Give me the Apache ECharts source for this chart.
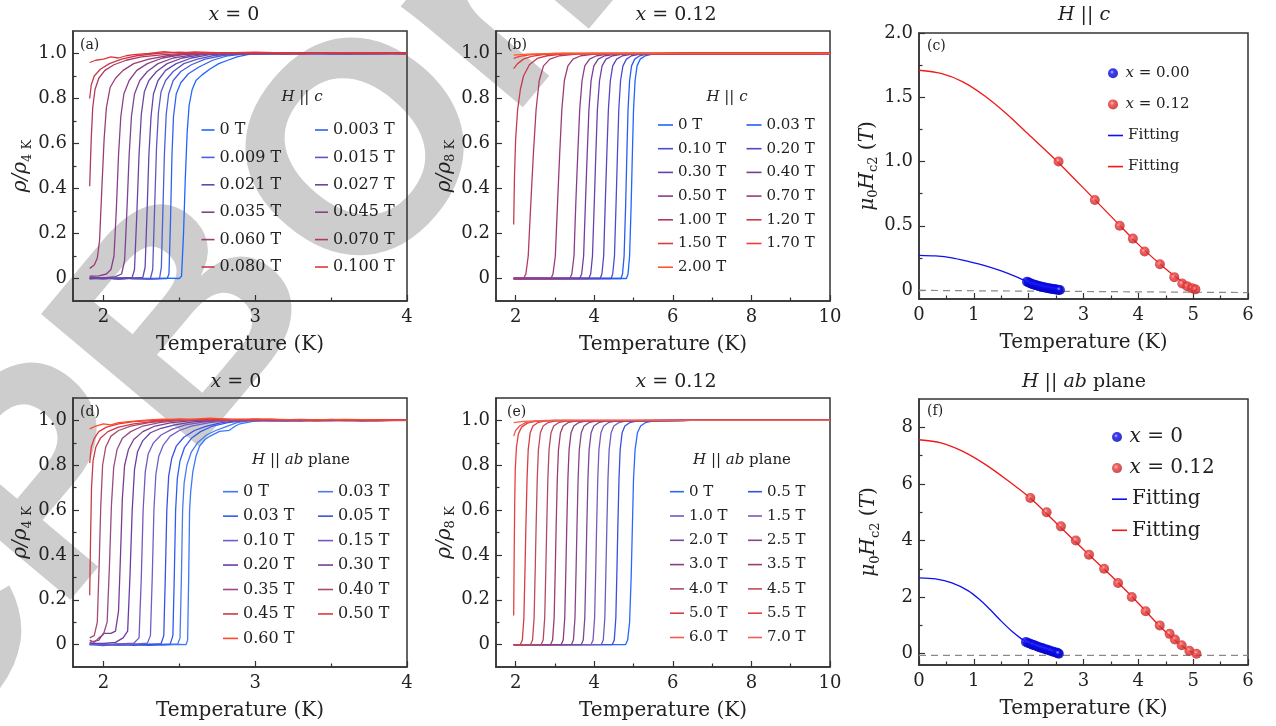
<!DOCTYPE html>
<html><head><meta charset="utf-8">
<script src="https://cdn.jsdelivr.net/npm/echarts@6/dist/echarts.min.js"></script>
<style>html,body{margin:0;padding:0;background:#fff}#c{width:1276px;height:726px}</style>
</head><body><div id="c"></div><script>
// ---------------- DATA ----------------
const fieldsA = ['0 T','0.003 T','0.009 T','0.015 T','0.021 T','0.027 T','0.035 T','0.045 T','0.060 T','0.070 T','0.080 T','0.100 T'];
const curvesA = [
 [[1.91,0.0],[2.0,0.003],[2.1,-0.003],[2.2,0.002],[2.3,-0.002],[2.4,0.002],[2.5,0.0],[2.515,0.01],[2.528,0.2],[2.54,0.45],[2.552,0.65],[2.565,0.77],[2.585,0.84],[2.61,0.88],[2.65,0.905],[2.70,0.93],[2.76,0.955],[2.82,0.97],[2.88,0.985],[2.95,0.995],[3.0,1.0],[3.2,0.997],[3.4,1.002],[3.6,0.998],[3.8,1.003],[4.0,1.0]],
 [[1.91,0.0],[2.0,-0.002],[2.1,0.003],[2.2,0.0],[2.3,-0.003],[2.42,0.0],[2.432,0.02],[2.442,0.25],[2.452,0.55],[2.462,0.72],[2.48,0.82],[2.51,0.87],[2.56,0.91],[2.63,0.94],[2.72,0.97],[2.82,0.99],[2.95,1.0],[3.2,1.002],[3.5,0.997],[3.8,1.002],[4.0,0.999]],
 [[1.91,0.0],[2.0,0.003],[2.1,-0.002],[2.2,0.002],[2.3,0.0],[2.37,0.0],[2.382,0.05],[2.392,0.3],[2.402,0.55],[2.414,0.73],[2.43,0.82],[2.46,0.88],[2.51,0.92],[2.58,0.95],[2.67,0.975],[2.78,0.99],[2.9,1.0],[3.2,0.998],[3.5,1.003],[3.8,0.998],[4.0,1.001]],
 [[1.91,0.002],[2.0,0.0],[2.1,0.003],[2.2,-0.002],[2.31,0.0],[2.325,0.04],[2.337,0.3],[2.35,0.58],[2.363,0.74],[2.38,0.83],[2.41,0.88],[2.46,0.92],[2.53,0.955],[2.62,0.975],[2.72,0.99],[2.85,1.0],[3.1,1.002],[3.4,0.998],[3.7,1.003],[4.0,1.0]],
 [[1.91,0.0],[2.0,0.002],[2.1,-0.002],[2.2,0.002],[2.26,0.005],[2.275,0.05],[2.288,0.3],[2.30,0.55],[2.314,0.72],[2.33,0.82],[2.36,0.88],[2.41,0.925],[2.48,0.955],[2.58,0.98],[2.7,0.995],[2.85,1.0],[3.1,0.998],[3.4,1.003],[3.7,0.998],[4.0,1.002]],
 [[1.91,0.003],[2.0,0.0],[2.1,0.002],[2.19,0.005],[2.205,0.04],[2.22,0.28],[2.235,0.55],[2.25,0.73],[2.27,0.83],[2.3,0.88],[2.35,0.92],[2.42,0.955],[2.52,0.98],[2.65,0.995],[2.8,1.002],[3.0,0.999],[3.3,1.003],[3.6,0.998],[4.0,1.001]],
 [[1.91,0.005],[2.0,0.003],[2.08,0.008],[2.12,0.02],[2.14,0.08],[2.155,0.3],[2.17,0.55],[2.185,0.72],[2.205,0.82],[2.24,0.88],[2.29,0.92],[2.36,0.955],[2.46,0.98],[2.6,0.995],[2.75,1.003],[3.0,0.999],[3.3,1.002],[3.6,0.999],[4.0,1.0]],
 [[1.91,0.01],[1.97,0.012],[2.02,0.02],[2.05,0.04],[2.07,0.1],[2.085,0.3],[2.10,0.55],[2.115,0.72],[2.135,0.82],[2.17,0.88],[2.22,0.925],[2.29,0.955],[2.39,0.98],[2.52,0.995],[2.7,1.0],[3.0,1.003],[3.3,0.998],[3.6,1.002],[4.0,0.999]],
 [[1.91,0.045],[1.94,0.06],[1.96,0.09],[1.975,0.17],[1.99,0.4],[2.005,0.62],[2.02,0.76],[2.045,0.85],[2.08,0.89],[2.13,0.925],[2.2,0.955],[2.3,0.975],[2.42,0.99],[2.6,1.0],[2.9,1.004],[3.2,0.998],[3.5,1.002],[3.8,0.999],[4.0,1.0]],
 [[1.91,0.41],[1.92,0.62],[1.93,0.76],[1.945,0.84],[1.97,0.89],[2.01,0.925],[2.07,0.95],[2.15,0.97],[2.25,0.985],[2.4,0.995],[2.6,1.003],[2.9,0.998],[3.2,1.003],[3.5,0.999],[3.8,1.002],[4.0,1.0]],
 [[1.91,0.80],[1.92,0.86],[1.94,0.9],[1.98,0.93],[2.04,0.955],[2.12,0.975],[2.22,0.99],[2.35,1.0],[2.5,1.006],[2.7,1.0],[3.0,1.004],[3.3,0.999],[3.6,1.003],[4.0,1.0]],
 [[1.91,0.96],[1.95,0.97],[2.0,0.975],[2.05,0.985],[2.1,0.98],[2.15,0.99],[2.2,0.995],[2.3,1.0],[2.4,1.008],[2.5,1.002],[2.6,1.007],[2.8,1.003],[3.0,1.006],[3.3,1.0],[3.6,1.004],[4.0,1.0]]
];

const fieldsB = ['0 T','0.03 T','0.10 T','0.20 T','0.30 T','0.40 T','0.50 T','0.70 T','1.00 T','1.20 T','1.50 T','1.70 T','2.00 T'];
const curvesB = [
 [[1.95,0],[4.82,0],[4.86,0.02],[4.9,0.1],[4.94,0.33],[4.97,0.55],[5.0,0.75],[5.04,0.88],[5.09,0.945],[5.17,0.975],[5.3,0.99],[5.5,0.998],[6.5,1.0],[10,1.0]],
 [[1.95,0],[4.68,0],[4.72,0.02],[4.76,0.1],[4.8,0.33],[4.83,0.55],[4.86,0.75],[4.9,0.88],[4.95,0.945],[5.03,0.975],[5.16,0.99],[5.36,0.998],[6.5,1.0],[10,1.0]],
 [[1.95,0],[4.43,0],[4.47,0.02],[4.515,0.1],[4.555,0.33],[4.59,0.55],[4.625,0.75],[4.67,0.88],[4.73,0.945],[4.82,0.975],[4.95,0.99],[5.2,0.998],[6.5,1.0],[10,1.0]],
 [[1.95,0],[4.15,0],[4.195,0.02],[4.24,0.1],[4.28,0.33],[4.32,0.55],[4.36,0.75],[4.41,0.88],[4.47,0.945],[4.57,0.975],[4.72,0.99],[5.0,0.998],[6.5,1.0],[10,1.0]],
 [[1.95,0],[3.86,0],[3.91,0.02],[3.955,0.1],[4.0,0.33],[4.04,0.55],[4.08,0.75],[4.135,0.88],[4.2,0.945],[4.3,0.975],[4.47,0.99],[4.77,0.998],[6.5,1.0],[10,1.0]],
 [[1.95,0],[3.63,0],[3.68,0.02],[3.73,0.1],[3.775,0.33],[3.82,0.55],[3.865,0.75],[3.92,0.88],[3.99,0.945],[4.1,0.975],[4.27,0.99],[4.6,0.998],[6.5,1.0],[10,1.0]],
 [[1.95,0],[3.38,0],[3.43,0.02],[3.485,0.1],[3.53,0.33],[3.58,0.55],[3.63,0.75],[3.69,0.88],[3.76,0.945],[3.88,0.975],[4.06,0.99],[4.4,0.998],[6.5,1.0],[10,1.0]],
 [[1.95,0],[2.9,0],[2.95,0.02],[3.01,0.1],[3.065,0.33],[3.12,0.55],[3.175,0.75],[3.24,0.88],[3.33,0.945],[3.46,0.975],[3.66,0.99],[4.05,0.998],[6,1.0],[10,1.0]],
 [[1.95,0],[2.2,0],[2.26,0.02],[2.32,0.1],[2.385,0.33],[2.45,0.55],[2.52,0.75],[2.6,0.88],[2.71,0.945],[2.87,0.975],[3.12,0.99],[3.6,0.998],[5,1.0],[10,1.0]],
 [[1.95,0.24],[1.97,0.45],[2.0,0.62],[2.05,0.75],[2.12,0.84],[2.2,0.9],[2.35,0.95],[2.55,0.978],[2.8,0.99],[3.2,0.997],[4.0,1.0],[10,1.0]],
 [[1.95,0.933],[2.05,0.955],[2.2,0.975],[2.4,0.987],[2.7,0.995],[3.2,1.0],[10,1.0]],
 [[1.95,0.978],[2.1,0.987],[2.4,0.995],[3.0,1.0],[10,1.0]],
 [[1.95,0.993],[2.3,0.997],[3.0,1.0],[10,1.0]]
];

const fieldsD = ['0 T','0.03 T','0.03 T','0.05 T','0.10 T','0.15 T','0.20 T','0.30 T','0.35 T','0.40 T','0.45 T','0.50 T','0.60 T'];
const curvesD = [
 [[1.91,0.0],[2.0,-0.004],[2.1,0.002],[2.2,-0.003],[2.3,0.002],[2.4,-0.002],[2.5,0.001],[2.545,0.0],[2.555,0.02],[2.562,0.3],[2.568,0.6],[2.575,0.68],[2.589,0.77],[2.61,0.84],[2.633,0.884],[2.67,0.915],[2.70,0.929],[2.765,0.951],[2.83,0.956],[2.87,0.975],[2.9,0.985],[2.985,0.996],[3.1,1.003],[3.3,0.998],[3.5,1.004],[3.7,0.998],[3.85,1.003],[4.0,1.0]],
 [[1.91,0.003],[2.0,0.0],[2.1,-0.003],[2.2,0.002],[2.3,-0.002],[2.4,0.001],[2.49,0.003],[2.505,0.03],[2.514,0.3],[2.522,0.6],[2.532,0.72],[2.55,0.8],[2.58,0.86],[2.62,0.9],[2.68,0.935],[2.74,0.955],[2.8,0.97],[2.88,0.99],[2.98,1.0],[3.2,0.998],[3.4,1.003],[3.6,0.999],[3.8,1.003],[4.0,0.999]],
 [[1.91,0.0],[2.0,0.003],[2.1,-0.002],[2.2,0.001],[2.3,-0.003],[2.44,0.002],[2.458,0.04],[2.467,0.3],[2.476,0.6],[2.487,0.74],[2.505,0.82],[2.535,0.88],[2.58,0.92],[2.64,0.95],[2.72,0.975],[2.82,0.99],[2.95,1.0],[3.2,1.003],[3.5,0.998],[3.8,1.002],[4.0,1.0]],
 [[1.91,0.002],[2.0,-0.002],[2.1,0.002],[2.2,-0.002],[2.3,0.001],[2.38,0.004],[2.398,0.04],[2.408,0.3],[2.418,0.6],[2.43,0.75],[2.45,0.83],[2.48,0.885],[2.53,0.925],[2.6,0.955],[2.68,0.975],[2.78,0.99],[2.9,1.0],[3.2,0.998],[3.5,1.003],[3.8,0.999],[4.0,1.002]],
 [[1.91,0.0],[2.0,0.002],[2.1,-0.002],[2.2,0.002],[2.29,0.006],[2.31,0.04],[2.322,0.3],[2.333,0.6],[2.346,0.76],[2.365,0.84],[2.395,0.89],[2.44,0.93],[2.5,0.955],[2.58,0.975],[2.7,0.99],[2.85,1.0],[3.1,1.003],[3.4,0.998],[3.7,1.002],[4.0,1.0]],
 [[1.91,0.003],[2.0,0.0],[2.1,0.003],[2.2,0.006],[2.235,0.03],[2.25,0.3],[2.262,0.6],[2.276,0.77],[2.295,0.85],[2.33,0.9],[2.38,0.935],[2.45,0.96],[2.54,0.98],[2.66,0.993],[2.8,1.0],[3.1,0.998],[3.4,1.003],[3.7,0.999],[4.0,1.002]],
 [[1.91,0.005],[2.0,0.005],[2.08,0.01],[2.13,0.03],[2.16,0.06],[2.175,0.3],[2.19,0.6],[2.205,0.78],[2.225,0.86],[2.26,0.91],[2.31,0.945],[2.38,0.965],[2.47,0.98],[2.6,0.995],[2.75,1.0],[3.0,1.004],[3.3,0.998],[3.6,1.003],[4.0,1.0]],
 [[1.91,0.01],[1.97,0.02],[2.0,0.05],[2.05,0.05],[2.08,0.06],[2.1,0.15],[2.113,0.4],[2.125,0.65],[2.14,0.8],[2.165,0.87],[2.2,0.915],[2.26,0.95],[2.34,0.975],[2.45,0.99],[2.6,1.0],[2.9,1.005],[3.2,0.999],[3.5,1.003],[3.8,0.998],[4.0,1.0]],
 [[1.91,0.02],[1.94,0.01],[1.97,0.03],[2.0,0.045],[2.025,0.1],[2.04,0.35],[2.053,0.62],[2.068,0.79],[2.09,0.87],[2.125,0.92],[2.18,0.95],[2.26,0.975],[2.37,0.99],[2.5,1.0],[2.8,1.006],[3.1,0.999],[3.4,1.003],[3.7,0.998],[4.0,1.001]],
 [[1.91,0.03],[1.94,0.04],[1.96,0.1],[1.972,0.35],[1.983,0.62],[1.995,0.8],[2.015,0.88],[2.05,0.93],[2.1,0.955],[2.18,0.975],[2.3,0.99],[2.45,1.0],[2.7,1.006],[3.0,1.0],[3.3,1.004],[3.6,0.999],[4.0,1.002]],
 [[1.91,0.22],[1.915,0.45],[1.922,0.7],[1.932,0.82],[1.95,0.88],[1.98,0.92],[2.03,0.95],[2.1,0.97],[2.2,0.985],[2.35,0.997],[2.5,1.004],[2.8,1.0],[3.1,1.005],[3.4,0.999],[3.7,1.003],[4.0,1.0]],
 [[1.91,0.81],[1.92,0.88],[1.94,0.92],[1.97,0.95],[2.02,0.97],[2.1,0.985],[2.2,0.995],[2.35,1.0],[2.5,1.006],[2.8,1.002],[3.1,1.005],[3.4,0.999],[3.7,1.003],[4.0,1.0]],
 [[1.91,0.962],[1.95,0.975],[2.0,0.985],[2.05,0.98],[2.1,0.99],[2.2,0.997],[2.3,1.002],[2.4,1.006],[2.55,1.003],[2.7,1.01],[2.85,1.004],[3.0,1.007],[3.3,1.002],[3.6,1.005],[4.0,1.0]]
];

const fieldsE = ['0 T','0.5 T','1.0 T','1.5 T','2.0 T','2.5 T','3.0 T','3.5 T','4.0 T','4.5 T','5.0 T','5.5 T','6.0 T','7.0 T'];
const curvesE = [
 [[1.95,0],[4.8,0],[4.85,0.02],[4.9,0.1],[4.94,0.3],[4.97,0.52],[5.0,0.74],[5.04,0.87],[5.1,0.945],[5.18,0.975],[5.3,0.99],[5.5,0.998],[6.5,1.0],[10,1.0]],
 [[1.95,0],[4.46,0],[4.51,0.02],[4.55,0.12],[4.58,0.35],[4.6,0.52],[4.63,0.74],[4.66,0.87],[4.71,0.945],[4.78,0.975],[4.9,0.99],[5.1,0.998],[6.5,1.0],[10,1.0]],
 [[1.95,0],[4.18,0],[4.23,0.02],[4.27,0.12],[4.3,0.35],[4.32,0.52],[4.35,0.74],[4.38,0.87],[4.43,0.945],[4.5,0.975],[4.62,0.99],[4.82,0.998],[6.5,1.0],[10,1.0]],
 [[1.95,0],[3.92,0],[3.97,0.02],[4.01,0.12],[4.04,0.35],[4.06,0.52],[4.09,0.74],[4.12,0.87],[4.17,0.945],[4.24,0.975],[4.36,0.99],[4.56,0.998],[6.5,1.0],[10,1.0]],
 [[1.95,0],[3.67,0],[3.72,0.02],[3.76,0.12],[3.79,0.35],[3.81,0.52],[3.84,0.74],[3.87,0.87],[3.92,0.945],[3.99,0.975],[4.11,0.99],[4.31,0.998],[6.5,1.0],[10,1.0]],
 [[1.95,0],[3.42,0],[3.47,0.02],[3.51,0.12],[3.54,0.35],[3.56,0.52],[3.59,0.74],[3.62,0.87],[3.67,0.945],[3.74,0.975],[3.86,0.99],[4.06,0.998],[6.5,1.0],[10,1.0]],
 [[1.95,0],[3.16,0],[3.21,0.02],[3.25,0.12],[3.28,0.35],[3.3,0.52],[3.33,0.74],[3.36,0.87],[3.41,0.945],[3.48,0.975],[3.6,0.99],[3.8,0.998],[6.5,1.0],[10,1.0]],
 [[1.95,0],[2.89,0],[2.94,0.02],[2.98,0.12],[3.01,0.35],[3.03,0.52],[3.06,0.74],[3.09,0.87],[3.14,0.945],[3.21,0.975],[3.33,0.99],[3.53,0.998],[6.5,1.0],[10,1.0]],
 [[1.95,0],[2.65,0],[2.7,0.02],[2.74,0.12],[2.77,0.35],[2.79,0.52],[2.82,0.74],[2.85,0.87],[2.9,0.945],[2.97,0.975],[3.09,0.99],[3.29,0.998],[6.5,1.0],[10,1.0]],
 [[1.95,0],[2.38,0],[2.43,0.02],[2.47,0.12],[2.5,0.35],[2.52,0.52],[2.55,0.74],[2.58,0.87],[2.63,0.945],[2.7,0.975],[2.82,0.99],[3.02,0.998],[6.5,1.0],[10,1.0]],
 [[1.95,0],[2.12,0],[2.17,0.02],[2.21,0.12],[2.24,0.35],[2.26,0.52],[2.29,0.74],[2.32,0.87],[2.37,0.945],[2.44,0.975],[2.56,0.99],[2.76,0.998],[6.5,1.0],[10,1.0]],
 [[1.95,0.13],[1.96,0.35],[1.975,0.62],[1.99,0.78],[2.02,0.88],[2.07,0.94],[2.15,0.97],[2.3,0.988],[2.5,0.996],[3.0,1.0],[10,1.0]],
 [[1.95,0.93],[2.0,0.955],[2.1,0.975],[2.25,0.99],[2.5,0.997],[3.0,1.0],[10,1.0]],
 [[1.95,0.99],[2.2,0.996],[2.8,1.0],[10,1.0]]
];

// Hc2 panels
const hcC_x0 = [[1.97,0.065],[2.0,0.058],[2.03,0.052],[2.06,0.047],[2.09,0.043],[2.12,0.039],[2.15,0.035],[2.18,0.031],[2.21,0.028],[2.24,0.025],[2.27,0.022],[2.3,0.019],[2.33,0.016],[2.36,0.014],[2.39,0.012],[2.42,0.009],[2.45,0.007],[2.48,0.005],[2.51,0.003],[2.54,0.001],[2.57,0.0]];
const hcC_x12 = [[2.545,1.0],[3.206,0.70],[3.66,0.50],[3.90,0.40],[4.115,0.30],[4.394,0.20],[4.655,0.10],[4.80,0.05],[4.89,0.03],[4.98,0.013],[5.04,0.005]];
const fitC_x0 = [[0,0.27],[0.3,0.265],[0.6,0.25],[0.9,0.222],[1.2,0.19],[1.5,0.148],[1.8,0.098],[1.97,0.065]];
const fitC_x12 = [[0,1.71],[0.4,1.685],[0.8,1.62],[1.2,1.51],[1.6,1.37],[2.0,1.21],[2.4,1.05],[2.8,0.88],[3.2,0.705],[3.6,0.53],[4.0,0.355],[4.4,0.2],[4.7,0.095],[4.9,0.04],[5.07,0.0]];
const zeroC = [[0,-0.003],[6,-0.02]];

const hcF_x0 = [[1.95,0.41],[1.99,0.38],[2.03,0.35],[2.07,0.32],[2.1,0.3],[2.14,0.27],[2.18,0.24],[2.22,0.21],[2.26,0.19],[2.3,0.16],[2.34,0.14],[2.38,0.11],[2.42,0.09],[2.46,0.06],[2.5,0.04],[2.53,0.02],[2.55,0.0]];
const hcF_x12 = [[2.03,5.5],[2.327,5.0],[2.588,4.5],[2.86,4.0],[3.10,3.5],[3.375,3.0],[3.63,2.5],[3.88,2.0],[4.133,1.5],[4.39,1.0],[4.57,0.7],[4.667,0.5],[4.79,0.3],[4.93,0.1],[5.06,0.0]];
const fitF_x0 = [[0,2.68],[0.3,2.64],[0.6,2.5],[0.9,2.22],[1.1,1.92],[1.3,1.55],[1.5,1.15],[1.7,0.78],[1.85,0.55],[1.95,0.42]];
const fitF_x12 = [[0,7.56],[0.4,7.45],[0.8,7.15],[1.2,6.7],[1.6,6.15],[2.03,5.5],[2.5,4.62],[3.0,3.68],[3.5,2.76],[4.0,1.78],[4.4,0.95],[4.7,0.42],[4.9,0.13],[5.06,0.0]];
const zeroF = [[0,-0.06],[6,-0.06]];

// tick labels
const ticksRhoMajor = [0,0.2,0.4,0.6,0.8,1.0], ticksRhoMinor = [0.1,0.3,0.5,0.7,0.9];
const ticksT4Major = [2,3,4], ticksT4Minor = [2.5,3.5];
const ticksT10Major = [2,4,6,8,10], ticksT10Minor = [3,5,7,9];
const ticksT6Major = [0,1,2,3,4,5,6], ticksT6Minor = [0.5,1.5,2.5,3.5,4.5,5.5];
const ticksHcMajor = [0,0.5,1.0,1.5,2.0], ticksHcMinor = [0.25,0.75,1.25,1.75];
const ticksHabMajor = [0,2,4,6,8], ticksHabMinor = [1,3,5,7];

// ---------------- STYLE ----------------
const colorsA = ['#1f66ff','#2f62f0','#4a5fd8','#5b58c4','#6048b0','#6d44a0','#7c4494','#8a4088','#9c3c74','#b03a62','#c53a4c','#e0363a'];
const colorsB = ['#1f66ff','#2a5cf0','#4a4cd0','#5a44c0','#6a40ac','#783c9c','#8a3c8a','#9a3a78','#b03a64','#c83a4c','#e03a3a','#f04030','#ff5a2a'];
const colorsD = ['#3a78ff','#4a7af0','#2f5cf0','#3a50e0','#6a62c8','#7458c0','#6a3ca8','#7c3c94','#9a4a84','#a84a70','#c83a4a','#e0383a','#ff4a2a'];
const colorsE = ['#2a66ff','#3a4ee0','#6a5cc0','#7a5ab8','#7a4898','#8a4488','#8c3c80','#9c3c70','#b04a64','#c04a5a','#d83c44','#e84040','#f05a50','#f06050'];

const FONT = '"DejaVu Serif", serif';
const INK = '#222';
const grids = [
  {left:73, top:31, width:334, height:270},
  {left:496, top:31, width:334, height:270},
  {left:919, top:33, width:329, height:266},
  {left:73, top:398, width:334, height:269},
  {left:496, top:398, width:334, height:269},
  {left:919, top:399, width:329, height:266}
];
const richY = {
  r:{fontFamily:FONT, fontStyle:'italic', fontSize:20, lineHeight:26, color:INK},
  n:{fontFamily:FONT, fontSize:20, lineHeight:26, color:INK},
  s:{fontFamily:FONT, fontSize:13, lineHeight:10, verticalAlign:'bottom', color:INK}
};
function fmtRho(v){ return v===0 ? '0' : v.toFixed(1); }
function fmtInt(v){ return String(v); }

const xAxes = [], yAxes = [];
function addAxes(g, xr, xMaj, xMin, yr, yMaj, yMin, yFmt, yName, yGap){
  const axLine = {show:true, onZero:false, lineStyle:{color:'#333', width:1.5}};
  const tick = (vals,len)=>({show:true, inside:true, length:len, customValues:vals, lineStyle:{color:'#333', width:1.2}});
  xAxes.push({type:'value', gridIndex:g, min:xr[0], max:xr[1], position:'bottom',
    axisLine:axLine, axisTick:tick(xMaj,6), splitLine:{show:false},
    axisLabel:{customValues:xMaj, formatter:fmtInt, fontFamily:FONT, fontSize:18, color:INK, margin:7},
    name:'Temperature (K)', nameLocation:'middle', nameGap:34,
    nameTextStyle:{fontFamily:FONT, fontSize:20, color:INK}});
  xAxes.push({type:'value', gridIndex:g, min:xr[0], max:xr[1], position:'bottom',
    axisLine:{show:false, onZero:false}, axisTick:tick(xMin,3.5), axisLabel:{show:false}, splitLine:{show:false}});
  yAxes.push({type:'value', gridIndex:g, min:yr[0], max:yr[1], position:'left',
    axisLine:axLine, axisTick:tick(yMaj,6), splitLine:{show:false},
    axisLabel:{customValues:yMaj, formatter:yFmt, fontFamily:FONT, fontSize:18, color:INK, margin:6},
    name:yName, nameLocation:'middle', nameGap:yGap, nameRotate:90,
    nameTextStyle:{rich:richY}});
  yAxes.push({type:'value', gridIndex:g, min:yr[0], max:yr[1], position:'left',
    axisLine:{show:false, onZero:false}, axisTick:tick(yMin,3.5), axisLabel:{show:false}, splitLine:{show:false}});
}
const rhoName4 = '{r|ρ/ρ}{s|4 K}', rhoName8 = '{r|ρ/ρ}{s|8 K}';
const hcName = '{r|μ}{s|0}{r|H}{s|c2}{n| (}{r|T}{n|)}';
addAxes(0,[1.8,4],ticksT4Major,ticksT4Minor,[-0.1,1.1],ticksRhoMajor,ticksRhoMinor,fmtRho,rhoName4,39);
addAxes(1,[1.5,10],ticksT10Major,ticksT10Minor,[-0.1,1.1],ticksRhoMajor,ticksRhoMinor,fmtRho,rhoName8,36);
addAxes(2,[0,6],ticksT6Major,ticksT6Minor,[-0.07,2.0],ticksHcMajor,ticksHcMinor,fmtRho,hcName,37);
addAxes(3,[1.8,4],ticksT4Major,ticksT4Minor,[-0.1,1.1],ticksRhoMajor,ticksRhoMinor,fmtRho,rhoName4,39);
addAxes(4,[1.5,10],ticksT10Major,ticksT10Minor,[-0.1,1.1],ticksRhoMajor,ticksRhoMinor,fmtRho,rhoName8,36);
addAxes(5,[0,6],ticksT6Major,ticksT6Minor,[-0.4,9],ticksHabMajor,ticksHabMinor,fmtInt,hcName,37);

const series = [], legends = [], labelMap = {};
function addCurves(key, panel, fields, curves, colors, lg){
  const names = fields.map((f,i)=>{ const n = key+i; labelMap[n] = f; return n; });
  names.forEach((n,i)=>{
    series.push({type:'line', name:n, xAxisIndex:2*panel, yAxisIndex:2*panel, data:curves[i],
      symbol:'none', showSymbol:false, animation:false, z:3,
      lineStyle:{width:1.3, color:colors[i]}, itemStyle:{color:colors[i]}});
  });
  const col1 = names.filter((n,i)=>i%2===0), col2 = names.filter((n,i)=>i%2===1);
  [col1,col2].forEach((data,c)=>{
    legends.push({orient:'vertical', left:lg.x[c], top:lg.top, itemGap:lg.gap, padding:0,
      itemWidth:lg.iw, itemHeight:1.6, icon:'rect', selectedMode:false, data:data,
      formatter:(n)=>labelMap[n],
      textStyle:{fontFamily:FONT, fontSize:lg.fs, color:INK}});
  });
}
addCurves('a',0,fieldsA,curvesA,colorsA,{x:[201.5,315], top:122, gap:11.4, iw:13, fs:16});
addCurves('b',1,fieldsB,curvesB,colorsB,{x:[658,746.5], top:117.5, gap:8.7, iw:15, fs:15});
addCurves('d',3,fieldsD,curvesD,colorsD,{x:[223,318], top:483.7, gap:8.45, iw:15, fs:16});
addCurves('e',4,fieldsE,curvesE,colorsE,{x:[670,748], top:484.2, gap:9.3, iw:14, fs:15});

function ball(main, light, dark){
  return {type:'radial', x:0.4, y:0.38, r:0.65, colorStops:[{offset:0,color:light},{offset:0.3,color:main},{offset:1,color:dark}]};
}
const blueBall = ball('#0a0af5','#b0b0ff','#0000a8');
const redBall = ball('#ee3c3c','#ffb8b8','#b82020');
function addHc(key, panel, pts0, pts12, fit0, fit12, zero, lab0, lg){
  const nm = [key+'s0', key+'s12', key+'f0', key+'f12'];
  labelMap[nm[0]] = lab0; labelMap[nm[1]] = '{i|x} = 0.12';
  labelMap[nm[2]] = 'Fitting'; labelMap[nm[3]] = 'Fitting';
  const xi = 2*panel, yi = 2*panel;
  series.push({type:'line', name:key+'zero', xAxisIndex:xi, yAxisIndex:yi, data:zero, symbol:'none', animation:false, z:2,
    lineStyle:{color:'#8a8a8a', width:1.2, type:[7,5]}});
  series.push({type:'line', name:nm[2], xAxisIndex:xi, yAxisIndex:yi, data:fit0, symbol:'none', smooth:0.3, animation:false, z:3,
    lineStyle:{color:'#1010f0', width:1.3}, itemStyle:{color:'#1010f0'}});
  series.push({type:'line', name:nm[3], xAxisIndex:xi, yAxisIndex:yi, data:fit12, symbol:'none', smooth:0.3, animation:false, z:3,
    lineStyle:{color:'#f01818', width:1.3}, itemStyle:{color:'#f01818'}});
  series.push({type:'scatter', name:nm[0], xAxisIndex:xi, yAxisIndex:yi, data:pts0, symbolSize:10, animation:false, z:4,
    itemStyle:{color:blueBall}});
  series.push({type:'scatter', name:nm[1], xAxisIndex:xi, yAxisIndex:yi, data:pts12, symbolSize:10, animation:false, z:4,
    itemStyle:{color:redBall}});
  const ts = {fontFamily:FONT, fontSize:lg.fs, color:INK, lineHeight:lg.fs,
      rich:{i:{fontFamily:FONT, fontStyle:'italic', fontSize:lg.fs, lineHeight:lg.fs, color:INK}}};
  legends.push({orient:'vertical', left:lg.x, top:lg.top, itemGap:lg.gap, padding:0, itemWidth:15, itemHeight:10, icon:'circle',
    selectedMode:false, data:[nm[0],nm[1]], formatter:(n)=>labelMap[n], textStyle:ts});
  legends.push({orient:'vertical', left:lg.x, top:lg.top + 2*(lg.fs+lg.gap), itemGap:lg.gap, padding:0, itemWidth:15, itemHeight:1.6, icon:'rect',
    selectedMode:false, data:[nm[2],nm[3]], formatter:(n)=>labelMap[n], textStyle:ts});
}
addHc('c',2,hcC_x0,hcC_x12,fitC_x0,fitC_x12,zeroC,'{i|x} = 0.00',{x:1108, top:65.8, gap:16.1, fs:15});
addHc('f',5,hcF_x0,hcF_x12,fitF_x0,fitF_x12,zeroF,'{i|x} = 0',{x:1112, top:427, gap:11.1, fs:20});

// annotations
const richT = (fs)=>({i:{fontFamily:FONT, fontStyle:'italic', fontSize:fs, fill:INK}});
function txt(x,y,text,fs,align){
  return {type:'text', x:x, y:y, z:50, silent:true,
    style:{text:text, fontFamily:FONT, fontSize:fs, fill:INK, align:align||'center', verticalAlign:'middle', rich:richT(fs)}};
}
const WM_FONT = 'bold 300px "Liberation Sans", sans-serif', WM_ROT = 50*Math.PI/180, WM_FILL = '#cdcdcd';
const graphics = [
  // watermark (two pieces)
  {type:'text', x:-145, y:728, rotation:WM_ROT, z:-10, silent:true,
   style:{text:'CPB', font:WM_FONT, fill:WM_FILL, align:'left', verticalAlign:'middle'}},
  {type:'text', x:296, y:249, rotation:WM_ROT, z:-10, silent:true,
   style:{text:'Online', font:WM_FONT, fill:WM_FILL, align:'left', verticalAlign:'middle'}},
  txt(234,15,'{i|x} = 0',19), txt(676,15,'{i|x} = 0.12',19), txt(1084,15,'{i|H} || {i|c}',19),
  txt(236,382,'{i|x} = 0',19), txt(676,382,'{i|x} = 0.12',19), txt(1084,382,'{i|H} || {i|ab} plane',19),
  txt(80,45,'(a)',14,'left'), txt(507,45,'(b)',14,'left'), txt(927,46,'(c)',14,'left'),
  txt(80,412,'(d)',14,'left'), txt(507,412,'(e)',14,'left'), txt(927,411,'(f)',14,'left'),
  txt(302,97,'{i|H} || {i|c}',15), txt(727,97,'{i|H} || {i|c}',15),
  txt(301,460,'{i|H} || {i|ab} plane',15), txt(742,460,'{i|H} || {i|ab} plane',15)
];

const chart = echarts.init(document.getElementById('c'), null, {renderer:'canvas'});
chart.setOption({
  animation:false,
  backgroundColor:'#ffffff',
  grid: grids.map(g=>Object.assign({show:true, borderColor:'#333', borderWidth:1.5, backgroundColor:'transparent'}, g)),
  xAxis:xAxes, yAxis:yAxes, series:series, legend:legends, graphic:graphics
});
</script></body></html>
